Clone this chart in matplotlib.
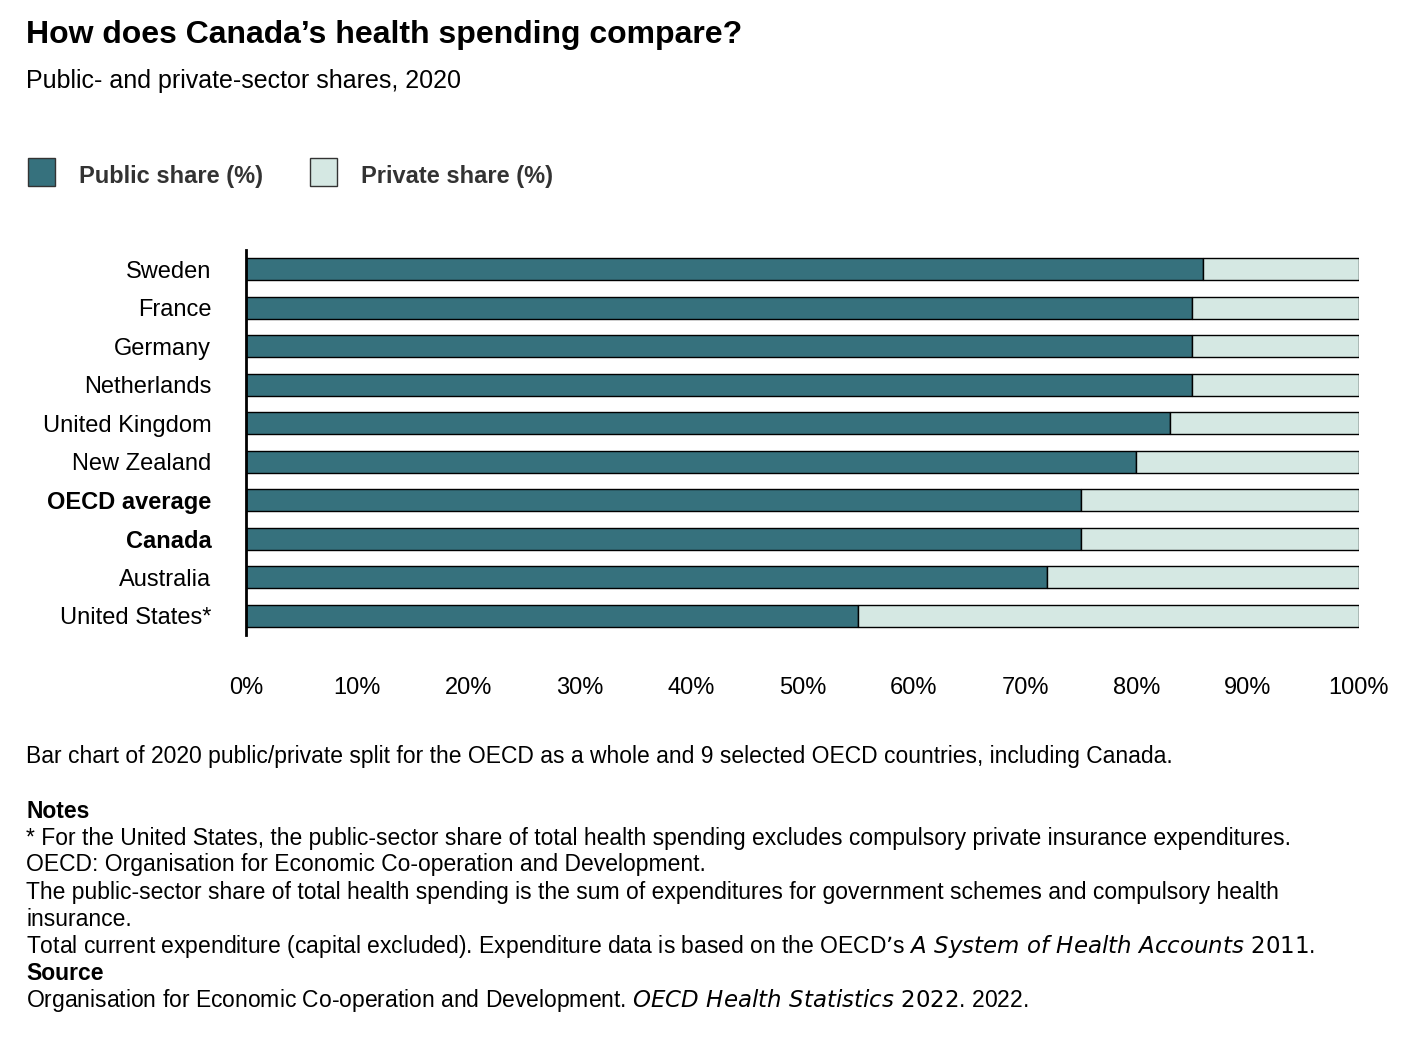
import matplotlib
matplotlib.use("Agg")
import matplotlib.pyplot as plt
from matplotlib.patches import Rectangle

plt.rcParams['font.family'] = ['Liberation Sans', 'DejaVu Sans']

countries = ["Sweden", "France", "Germany", "Netherlands", "United Kingdom", "New Zealand",
             "OECD average", "Canada", "Australia", "United States*"]
public = [86, 85, 85, 85, 83, 80, 75, 75, 72, 55]
private = [100 - p for p in public]
bold = {"OECD average", "Canada"}
ticks = list(range(0, 101, 10))
tick_labels = [f"{t}%" for t in ticks]

C_PUB = "#36717d"
C_PRI = "#d5e8e3"

fig = plt.figure(figsize=(14.2, 10.64), dpi=100)
W, H = 1420, 1064
def fx(x): return x / W
def fy(y): return 1 - y / H

fig.text(fx(26), fy(35), "How does Canada’s health spending compare?", fontsize=23, fontweight='bold', va='center')
fig.text(fx(26), fy(81), "Public- and private-sector shares, 2020", fontsize=18, va='center')

for x0, lab, col in [(28, "Public share (%)", C_PUB), (310, "Private share (%)", C_PRI)]:
    fig.patches.append(Rectangle((fx(x0), fy(186)), 27 / W, 28 / H, transform=fig.transFigure,
                                 facecolor=col, edgecolor='#333333', lw=1))
    fig.text(fx(x0 + 51), fy(176), lab, fontsize=17, fontweight='bold', color='#333333', va='center')

ax = fig.add_axes([fx(246), fy(635), (1359 - 246) / W, (635 - 250) / H])
y = list(range(len(countries)))[::-1]
ax.barh(y, public, height=0.58, color=C_PUB, edgecolor='black', lw=1)
ax.barh(y, private, left=public, height=0.58, color=C_PRI, edgecolor='black', lw=1)
ax.set_xlim(0, 100)
ax.set_ylim(-0.5, len(countries) - 0.5)
ax.set_yticks(y)
ax.set_yticklabels(countries, fontsize=17)
for t, c in zip(ax.get_yticklabels(), countries):
    if c in bold:
        t.set_fontweight('bold')
ax.set_xticks(ticks)
ax.set_xticklabels(tick_labels, fontsize=17)
ax.tick_params(axis='x', length=0, pad=30)
ax.tick_params(axis='y', length=0, pad=25)
for s in ['top', 'right', 'bottom']:
    ax.spines[s].set_visible(False)
ax.spines['left'].set_linewidth(2)

fs = 16.5
fig.text(fx(26), fy(757), "Bar chart of 2020 public/private split for the OECD as a whole and 9 selected OECD countries, including Canada.", fontsize=fs, va='center')
fig.text(fx(26), fy(811), "Notes", fontsize=fs, fontweight='bold', va='center')
lines = [
    (838, "* For the United States, the public-sector share of total health spending excludes compulsory private insurance expenditures."),
    (865, "OECD: Organisation for Economic Co-operation and Development."),
    (893, "The public-sector share of total health spending is the sum of expenditures for government schemes and compulsory health"),
    (920, "insurance."),
]
for yy, t in lines:
    fig.text(fx(26), fy(yy), t, fontsize=fs, va='center')
fig.text(fx(26), fy(947), "Total current expenditure (capital excluded). Expenditure data is based on the OECD’s $\\it{A\\ System\\ of\\ Health\\ Accounts\\ 2011}$.", fontsize=fs, va='center')
fig.text(fx(26), fy(974), "Source", fontsize=fs, fontweight='bold', va='center')
fig.text(fx(26), fy(1001), "Organisation for Economic Co-operation and Development. $\\it{OECD\\ Health\\ Statistics\\ 2022}$. 2022.", fontsize=fs, va='center')

fig.savefig("out.png", dpi=100, facecolor='white')
